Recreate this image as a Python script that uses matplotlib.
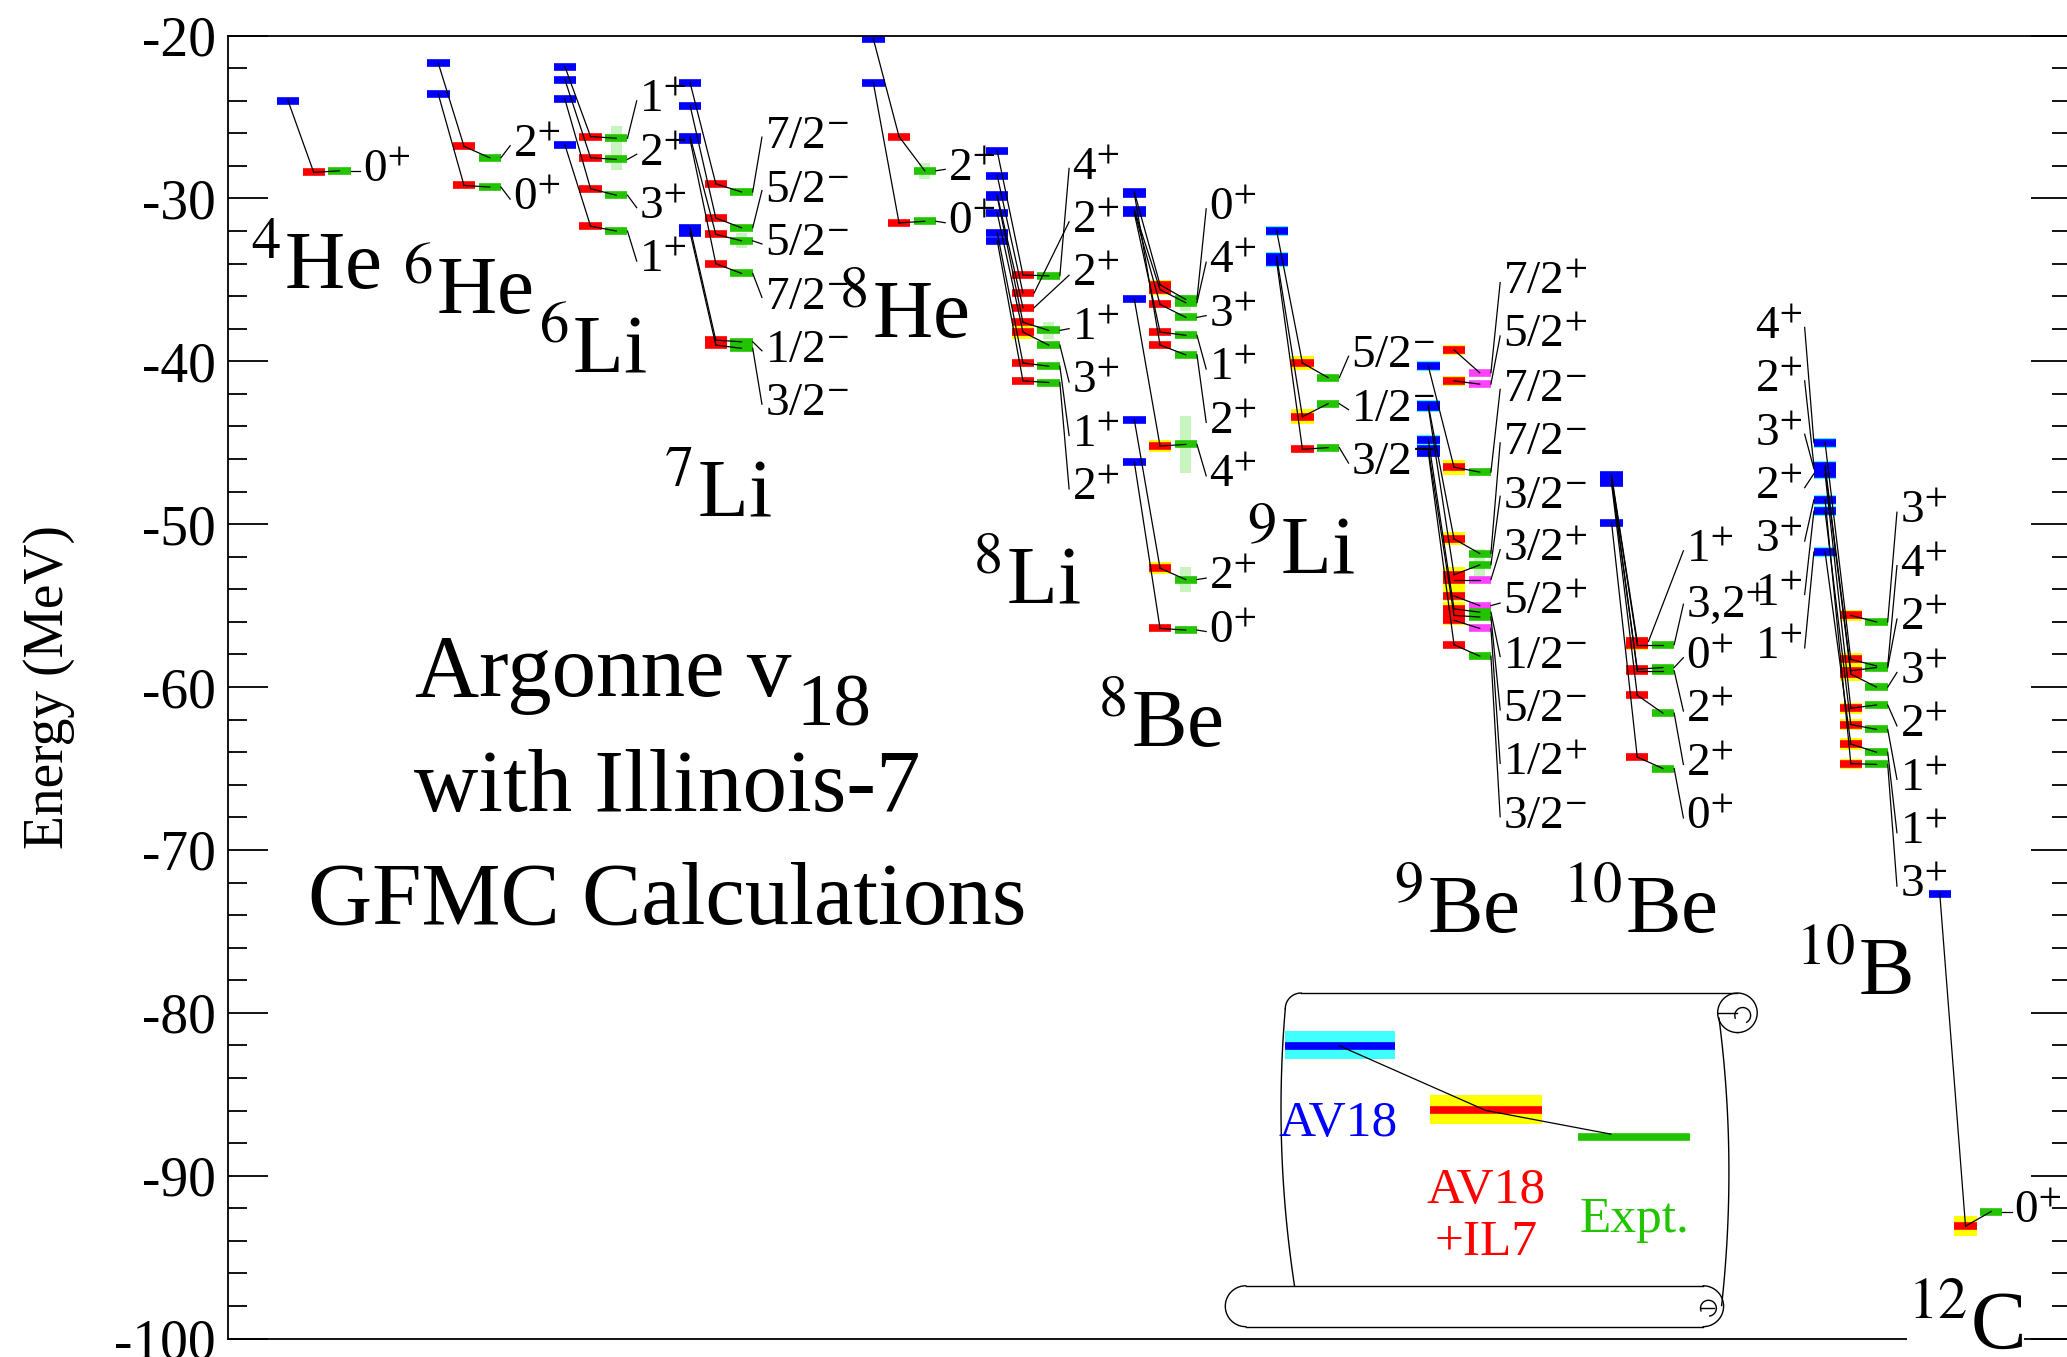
"""Level scheme of light nuclei: AV18, AV18+IL7 (GFMC) and experiment."""

import numpy as np
import matplotlib

matplotlib.use("Agg")
import matplotlib.pyplot as plt
from matplotlib.ticker import MultipleLocator

nan = np.nan

# ---------------------------------------------------------------- data (MeV)
# states are listed top to bottom, as the J^pi labels appear
HE4_JPI = ["0+"]
HE4_AV18 = [-24.0]
HE4_IL7 = [-28.4]
HE4_EXPT = [-28.3]

HE6_JPI = ["2+", "0+"]
HE6_AV18 = [-21.7, -23.6]
HE6_IL7 = [-26.8, -29.2]
HE6_EXPT = [-27.5, -29.3]

LI6_JPI = ["1+", "2+", "3+", "1+"]
LI6_AV18 = [-21.9, -22.7, -23.9, -26.7]
LI6_IL7 = [-26.2, -27.5, -29.4, -31.7]
LI6_EXPT = [-26.3, -27.6, -29.8, -32.0]
LI6_WIDTH = [1.5, 1.3, 0, 0]

LI7_JPI = ["7/2-", "5/2-", "5/2-", "7/2-", "1/2-", "3/2-"]
LI7_AV18 = [-22.9, -24.3, -26.2, -26.4, -31.8, -32.1]
LI7_IL7 = [-29.1, -31.2, -32.2, -34.0, -38.7, -39.0]
LI7_EXPT = [-29.6, -31.8, -32.6, -34.6, -38.8, -39.2]
LI7_WIDTH = [0, 0, 0.9, 0, 0, 0]

HE8_JPI = ["2+", "0+"]
HE8_AV18 = [-20.2, -22.9]
HE8_IL7 = [-26.2, -31.5]
HE8_EXPT = [-28.3, -31.4]
HE8_WIDTH = [1.0, 0]

LI8_JPI = ["4+", "2+", "2+", "1+", "3+", "1+", "2+"]
LI8_AV18 = [-27.1, -28.6, -29.8, -29.9, -30.9, -32.1, -32.6]
LI8_IL7 = [-34.7, -35.8, -36.7, -37.6, -38.2, -40.1, -41.2]
LI8_IL7_ERR = [0, 0, 0, 0, 0.4, 0, 0]
LI8_EXPT = [-34.75, nan, nan, -38.1, -39.0, -40.3, -41.3]
LI8_WIDTH = [0, 0, 0, 1.0, 0, 0, 0]

BE8_JPI = ["0+", "4+", "3+", "1+", "2+", "4+", "2+", "0+"]
BE8_AV18 = [-29.6, -30.7, -30.8, -30.9, -29.7, -36.2, -43.6, -46.2]
BE8_IL7 = [-35.3, -35.6, -36.5, -38.2, -39.0, -45.2, -52.7, -56.4]
BE8_IL7_ERR = [0.3, 0.3, 0, 0, 0, 0.35, 0.35, 0]
BE8_EXPT = [-36.2, -36.4, -37.3, -38.4, -39.6, -45.1, -53.4, -56.5]
BE8_WIDTH = [0, 1.0, 0, 0, 0, 3.5, 1.5, 0]

LI9_JPI = ["5/2-", "1/2-", "3/2-"]
LI9_AV18 = [-32.0, -33.6, -33.9]
LI9_AV18_ERR = [0.3, 0.3, 0.3]
LI9_IL7 = [-40.1, -43.4, -45.4]
LI9_IL7_ERR = [0.45, 0.45, 0]
LI9_EXPT = [-41.0, -42.6, -45.3]

BE9_JPI = ["7/2+", "5/2+", "7/2-", "7/2-", "3/2-", "3/2+",
           "5/2+", "1/2-", "5/2-", "1/2+", "3/2-"]
BE9_AV18 = [nan, nan, -40.3, -42.7, -42.8, nan, nan, -44.8, -45.4, nan, -45.6]
BE9_AV18_ERR = [0, 0, 0.3, 0.3, 0.3, 0, 0, 0.3, 0.3, 0, 0.3]
BE9_IL7 = [-39.3, -41.2, -46.5, -50.9, -53.1, -53.4,
           -54.4, -55.2, -55.6, -55.9, -57.4]
BE9_IL7_ERR = [0.3, 0.3, 0.45, 0.4, 0.5, 0.8, 0.3, 0.4, 0.4, 0.3, 0]
BE9_EXPT = [-40.7, -41.4, -46.8, -51.8, -52.5, -53.4,
            -55.0, -55.4, -55.7, -56.4, -58.1]
BE9_WIDTH = [0, 0, 0, 0, 2.0, 0, 0, 0, 0, 0, 0]

BE10_JPI = ["1+", "3,2+", "0+", "2+", "2+", "0+"]
BE10_AV18 = [-47.0, -47.1, -47.2, -47.3, -47.5, -49.9]
BE10_AV18_ERR = [0.15, 0.15, 0.15, 0.15, 0.15, 0.15]
BE10_IL7 = [-57.2, -57.4, -58.9, -59.0, -60.5, -64.3]
BE10_IL7_ERR = [0.3, 0.3, 0, 0, 0, 0]
BE10_EXPT = [nan, -57.4, -58.8, -59.0, -61.6, -65.0]

B10_JPI = ["3+", "4+", "2+", "3+", "2+", "1+", "1+", "3+"]
B10_AV18 = [nan, -45.0, -46.4, -46.6, -46.9, -49.2, -51.7, -48.5]
B10_AV18_ERR = [0, 0.3, 0.3, 0.3, 0.3, 0.3, 0.3, 0.3]
B10_IL7 = [-55.6, -58.3, -59.0, -59.2, -61.3, -62.3, -63.5, -64.7]
B10_IL7_ERR = [0.35, 0.4, 0.4, 0.4, 0.35, 0.35, 0.35, 0.3]
B10_EXPT = [-56.0, -58.7, -58.8, -60.0, -61.1, -62.6, -64.0, -64.75]

C12_JPI = ["0+"]
C12_AV18 = [-72.7]
C12_IL7 = [-93.1]
C12_IL7_ERR = [0.6]
C12_EXPT = [-92.2]

# ---------------------------------------------------------------- style
BLUE = "#0000ff"
CYAN = "#40ffff"
RED = "#ff0000"
YELLOW = "#ffff00"
GREEN = "#22c400"
LIGHT_GREEN = "#c8f5bf"
MAGENTA = "#ff40ff"

BAR_W = 17.0     # column width (x units)
STEP = 19.5      # distance between the three columns
BAR_LW = 5.5
LINK_LW = 0.9
LABEL_GAP = 3.28  # MeV between stacked J^pi labels
JPI_SIZE = 34

plt.rcParams["font.family"] = ["Liberation Serif", "DejaVu Serif"]
plt.rcParams["mathtext.fontset"] = "stix"
plt.rcParams["axes.unicode_minus"] = False


def mev(ypix):
    # vertical placement helper for decorations (reference pixel row -> MeV)
    return -20.0 - (ypix - 27.0) / 12.35


def jpi_text(s):
    return f"{s[:-1]}$^{{{s[-1]}}}$"


def spread(targets, gap):
    """Stack labels around their targets, keeping at least `gap` apart."""
    clusters = []
    for i in range(len(targets)):
        clusters.append([i])
        while len(clusters) > 1:
            upper, lower = clusters[-2], clusters[-1]
            cu = np.mean([targets[k] for k in upper])
            cl = np.mean([targets[k] for k in lower])
            bottom_u = cu - gap * (len(upper) - 1) / 2
            top_l = cl + gap * (len(lower) - 1) / 2
            if bottom_u - top_l < gap:
                clusters[-2] = upper + lower
                clusters.pop()
            else:
                break
    pos = [0.0] * len(targets)
    for c in clusters:
        centre = np.mean([targets[k] for k in c])
        for j, k in enumerate(c):
            pos[k] = centre + gap * ((len(c) - 1) / 2 - j)
    return pos


def draw_nucleus(ax, x0, jpi, av18, il7, expt, av18_err=None, il7_err=None,
                 width=None, left_labels=False):
    n = len(jpi)
    av18_err = av18_err or [0] * n
    il7_err = il7_err or [0] * n
    width = width or [0] * n
    xb = x0 + BAR_W / 2
    xr = x0 + STEP + BAR_W / 2
    xg = x0 + 2 * STEP + BAR_W / 2
    gs_parity = jpi[-1][-1]

    for i in range(n):
        if not np.isnan(av18[i]):
            if av18_err[i] > 0:
                ax.bar(xb, 2 * av18_err[i], bottom=av18[i] - av18_err[i],
                       width=BAR_W, color=CYAN, zorder=1)
            ax.hlines(av18[i], x0, x0 + BAR_W, color=BLUE, lw=BAR_LW, zorder=2)
            ax.plot([xb, xr], [av18[i], il7[i]], color="black", lw=LINK_LW, zorder=3)
        if il7_err[i] > 0:
            ax.bar(xr, 2 * il7_err[i], bottom=il7[i] - il7_err[i],
                   width=BAR_W, color=YELLOW, zorder=1)
        ax.hlines(il7[i], xr - BAR_W / 2, xr + BAR_W / 2, color=RED, lw=BAR_LW, zorder=2)
        if not np.isnan(expt[i]):
            if width[i] > 0:
                ax.bar(xg, width[i], bottom=expt[i] - width[i] / 2,
                       width=BAR_W * 0.5, color=LIGHT_GREEN, zorder=1)
            colour = MAGENTA if jpi[i][-1] != gs_parity else GREEN
            ax.hlines(expt[i], xg - BAR_W / 2, xg + BAR_W / 2, color=colour,
                      lw=BAR_LW, zorder=2)
            ax.plot([xr, xg], [il7[i], expt[i]], color="black", lw=LINK_LW, zorder=3)

    # J^pi labels on the right
    targets = [e if not np.isnan(e) else r for e, r in zip(expt, il7)]
    pos = spread(targets, LABEL_GAP)
    for i in range(n):
        if np.isnan(expt[i]):
            xs = xr + BAR_W / 2
        else:
            xs = xg + BAR_W / 2
        ax.plot([xs, x0 + 63], [targets[i], pos[i]], color="black", lw=LINK_LW, zorder=3)
        ax.text(x0 + 65, pos[i], jpi_text(jpi[i]), fontsize=JPI_SIZE,
                va="center", ha="left", zorder=4)

    # AV18 labels on the left (10B, where the ordering changes)
    if left_labels:
        idx = [i for i in range(n) if not np.isnan(av18[i])]
        idx.sort(key=lambda i: -av18[i])
        lpos = spread([av18[i] for i in idx], LABEL_GAP)
        for i, p in zip(idx, lpos):
            ax.plot([x0 - 7, x0], [p, av18[i]], color="black", lw=LINK_LW, zorder=3)
            ax.text(x0 - 9, p, jpi_text(jpi[i]), fontsize=JPI_SIZE,
                    va="center", ha="right", zorder=4)


def draw_scroll(ax):
    def px_line(xs, ys, **kw):
        ax.plot(xs, [mev(y) for y in ys], color="black", lw=1.0, zorder=3, **kw)

    def px_arc(cx, cy, r, a0, a1):
        t = np.linspace(np.radians(a0), np.radians(a1), 60)
        px_line(cx + r * np.cos(t), cy - r * np.sin(t))

    # sheet
    px_line([987, 1318], [753, 753])
    px_arc(987, 765, 12, 90, 180)
    t = np.linspace(0, 1, 50)
    px_line((1 - t) ** 2 * 975 + 2 * t * (1 - t) * 966 + t ** 2 * 982,
            (1 - t) ** 2 * 765 + 2 * t * (1 - t) * 870 + t ** 2 * 975)
    px_line((1 - t) ** 2 * 1304 + 2 * t * (1 - t) * 1318 + t ** 2 * 1306,
            (1 - t) ** 2 * 772 + 2 * t * (1 - t) * 880 + t ** 2 * 990)
    # top-right curl
    px_arc(1318, 768, 15, -90, 270)
    px_arc(1322, 770, 6, -60, 200)
    px_line([1303, 1318], [768, 768])
    # bottom roll
    px_line([945, 1292], [975, 975])
    px_line([945, 1292], [1006, 1006])
    px_arc(945, 990.5, 15.5, 90, 270)
    px_arc(1292, 990.5, 15.5, -90, 90)
    px_arc(1296, 992, 6, -80, 200)
    px_line([1290, 1300], [992, 992])

    # legend bars
    ax.bar(1016.5, mev(782) - mev(803), bottom=mev(803), width=83, color=CYAN, zorder=1)
    ax.hlines(mev(793), 975, 1058, color=BLUE, lw=BAR_LW, zorder=2)
    ax.bar(1127.5, mev(830) - mev(852), bottom=mev(852), width=85, color=YELLOW, zorder=1)
    ax.hlines(mev(842), 1085, 1170, color=RED, lw=BAR_LW, zorder=2)
    ax.hlines(mev(862), 1197, 1282, color=GREEN, lw=BAR_LW, zorder=2)
    ax.plot([1016, 1127, 1222], [mev(793), mev(842), mev(860)],
            color="black", lw=LINK_LW, zorder=3)
    ax.text(1015, mev(852), "AV18", color=BLUE, fontsize=37, ha="center", va="center")
    ax.text(1127, mev(903), "AV18", color=RED, fontsize=37, ha="center", va="center")
    ax.text(1127, mev(942), "+IL7", color=RED, fontsize=37, ha="center", va="center")
    ax.text(1240, mev(925), "Expt.", color=GREEN, fontsize=37, ha="center", va="center")


def main():
    fig = plt.figure(figsize=(20.67, 13.57), dpi=100)
    ax = fig.add_axes([173 / 1568, 1 - 1015 / 1029, (1571 - 173) / 1568, (1015 - 27) / 1029])
    ax.set_xlim(173, 1571)
    ax.set_ylim(-100, -20)

    draw_nucleus(ax, 210, HE4_JPI, HE4_AV18, HE4_IL7, HE4_EXPT)
    draw_nucleus(ax, 324, HE6_JPI, HE6_AV18, HE6_IL7, HE6_EXPT)
    draw_nucleus(ax, 420, LI6_JPI, LI6_AV18, LI6_IL7, LI6_EXPT, width=LI6_WIDTH)
    draw_nucleus(ax, 515, LI7_JPI, LI7_AV18, LI7_IL7, LI7_EXPT, width=LI7_WIDTH)
    draw_nucleus(ax, 654, HE8_JPI, HE8_AV18, HE8_IL7, HE8_EXPT, width=HE8_WIDTH)
    draw_nucleus(ax, 748, LI8_JPI, LI8_AV18, LI8_IL7, LI8_EXPT,
                 il7_err=LI8_IL7_ERR, width=LI8_WIDTH)
    draw_nucleus(ax, 852, BE8_JPI, BE8_AV18, BE8_IL7, BE8_EXPT,
                 il7_err=BE8_IL7_ERR, width=BE8_WIDTH)
    draw_nucleus(ax, 960, LI9_JPI, LI9_AV18, LI9_IL7, LI9_EXPT,
                 av18_err=LI9_AV18_ERR, il7_err=LI9_IL7_ERR)
    draw_nucleus(ax, 1075, BE9_JPI, BE9_AV18, BE9_IL7, BE9_EXPT,
                 av18_err=BE9_AV18_ERR, il7_err=BE9_IL7_ERR, width=BE9_WIDTH)
    draw_nucleus(ax, 1214, BE10_JPI, BE10_AV18, BE10_IL7, BE10_EXPT,
                 av18_err=BE10_AV18_ERR, il7_err=BE10_IL7_ERR)
    draw_nucleus(ax, 1376, B10_JPI, B10_AV18, B10_IL7, B10_EXPT,
                 av18_err=B10_AV18_ERR, il7_err=B10_IL7_ERR, left_labels=True)
    draw_nucleus(ax, 1463, C12_JPI, C12_AV18, C12_IL7, C12_EXPT, il7_err=C12_IL7_ERR)

    # nucleus names
    names = [
        (190, -35.6, "4", "He"), (305, -37.1, "6", "He"), (408, -40.7, "6", "Li"),
        (503, -49.55, "7", "Li"), (636, -38.6, "8", "He"), (737, -54.9, "8", "Li"),
        (832, -63.7, "8", "Be"), (945, -53.0, "9", "Li"), (1057, -75.1, "9", "Be"),
        (1185, -75.1, "10", "Be"), (1362, -78.9, "10", "B"),
    ]
    for x, y, a, sym in names:
        ax.text(x, y, f"$^{{{a}}}$" + sym, fontsize=60, ha="left", va="baseline", zorder=4)
    ax.text(1447, -100.6, "$^{12}$C", fontsize=60, ha="left", va="baseline", zorder=5,
            clip_on=False, bbox=dict(facecolor="white", edgecolor="none", pad=0))

    # title block
    ax.text(600, mev(528), "Argonne v", fontsize=64, ha="right", va="baseline")
    ax.text(604, mev(550), "18", fontsize=54, ha="left", va="baseline")
    ax.text(506, mev(615), "with Illinois-7", fontsize=64, ha="center", va="baseline")
    ax.text(506, mev(700), "GFMC Calculations", fontsize=64, ha="center", va="baseline")

    draw_scroll(ax)

    ax.yaxis.set_major_locator(MultipleLocator(10))
    ax.yaxis.set_minor_locator(MultipleLocator(2))
    ax.tick_params(axis="y", which="major", direction="in", length=29, width=1.3,
                   labelsize=40, right=True, pad=9)
    ax.tick_params(axis="y", which="minor", direction="in", length=14, width=1.3, right=True)
    ax.tick_params(axis="x", which="both", bottom=False, labelbottom=False)
    for spine in ax.spines.values():
        spine.set_linewidth(1.3)
    ax.set_ylabel("Energy (MeV)", fontsize=40)
    ax.yaxis.set_label_coords(-0.083, 0.5)

    fig.savefig("out.png", dpi=100)


if __name__ == "__main__":
    main()
